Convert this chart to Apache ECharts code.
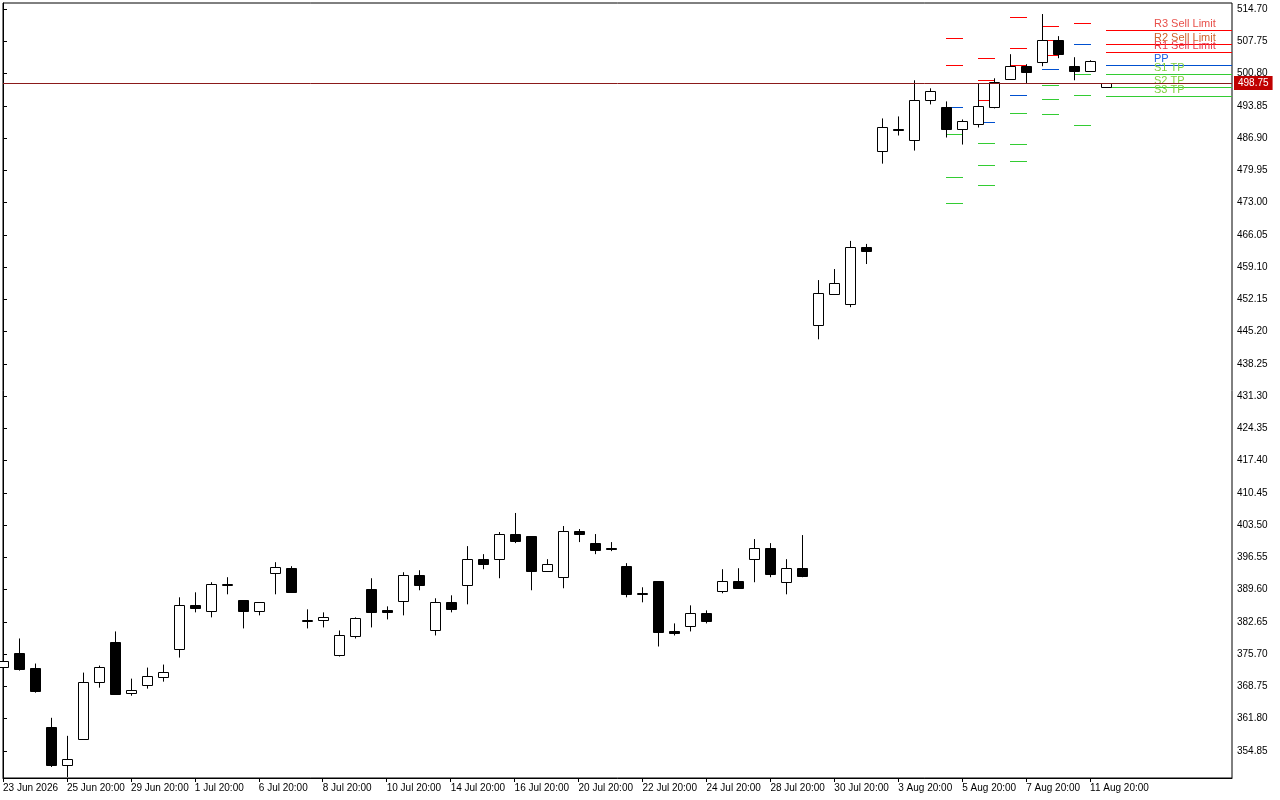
<!DOCTYPE html>
<html>
<head>
<meta charset="utf-8">
<script src="https://cdn.jsdelivr.net/npm/echarts@6/dist/echarts.min.js"></script>
<style>
  html, body { margin: 0; padding: 0; background: #fff; }
  #chart { width: 1280px; height: 800px; }
</style>
</head>
<body>
<div id="chart"></div>
<script>
'use strict';

// candles: [open, close, low, high]
const candles = [
  [373.03, 374.32, 372.81, 374.54], [376.05, 372.59, 372.16, 379.08], [372.81, 367.84, 367.40, 373.68],
  [360.05, 351.83, 351.40, 361.99], [351.83, 353.13, 349.23, 358.10], [357.45, 369.78, 357.24, 371.73],
  [369.78, 373.03, 368.48, 373.24], [378.43, 367.19, 367.19, 380.60], [367.40, 368.05, 366.75, 370.43],
  [369.13, 371.08, 368.27, 372.81], [370.86, 371.95, 369.78, 373.46], [376.92, 386.22, 374.97, 387.95],
  [386.22, 385.57, 384.71, 389.03], [384.92, 390.76, 383.63, 391.20], [390.76, 390.76, 388.60, 392.28],
  [387.30, 384.92, 381.25, 387.30], [384.92, 386.87, 384.06, 386.87], [393.14, 394.44, 388.60, 395.52],
  [394.22, 389.03, 389.03, 394.66], [382.98, 382.98, 381.25, 385.36], [382.98, 383.63, 381.46, 384.71],
  [375.62, 379.73, 375.19, 380.81], [379.52, 383.41, 379.08, 383.63], [389.68, 384.71, 381.46, 392.06],
  [385.14, 384.71, 383.19, 386.00], [387.09, 392.71, 384.06, 393.36], [392.71, 390.55, 389.47, 393.79],
  [380.81, 386.87, 379.73, 387.74], [386.87, 385.36, 384.71, 388.38], [390.55, 396.17, 386.44, 398.98],
  [396.17, 395.09, 394.01, 397.25], [396.17, 401.58, 392.06, 402.01], [401.58, 400.06, 399.63, 406.12],
  [401.15, 393.57, 389.47, 401.15], [393.57, 395.09, 393.57, 396.17], [392.28, 402.23, 389.90, 403.31],
  [402.23, 401.58, 399.85, 402.66], [399.63, 398.12, 397.25, 401.58], [398.55, 398.33, 397.90, 399.85],
  [394.66, 388.60, 387.95, 395.31], [388.82, 388.82, 386.87, 390.11], [391.41, 380.38, 377.35, 391.41],
  [380.60, 380.16, 379.73, 382.33], [381.68, 384.49, 380.60, 386.22], [384.49, 382.76, 382.33, 385.14],
  [389.25, 391.41, 388.82, 394.01], [391.41, 389.90, 389.90, 394.22], [396.17, 398.55, 391.20, 400.50],
  [398.55, 392.93, 392.28, 399.63], [391.20, 394.22, 388.60, 396.17], [394.22, 392.49, 392.28, 401.36],
  [446.57, 453.49, 443.54, 456.30], [453.27, 455.65, 453.27, 458.68], [451.11, 463.44, 450.46, 464.74],
  [463.44, 462.57, 459.76, 464.09], [484.20, 489.18, 481.39, 491.13], [488.96, 488.75, 487.45, 491.56],
  [486.58, 495.02, 484.20, 499.35], [495.02, 496.97, 494.15, 497.62], [493.51, 488.75, 487.02, 494.80],
  [488.75, 490.48, 485.50, 490.91], [489.83, 493.72, 489.18, 498.70], [493.51, 498.91, 493.29, 499.78],
  [499.56, 502.37, 499.56, 504.97], [502.37, 501.08, 498.70, 502.81], [503.24, 508.00, 502.37, 513.62],
  [508.00, 504.97, 504.10, 508.86], [502.37, 501.29, 499.35, 504.32], [501.29, 503.46, 501.29, 503.67],
  [497.83, 498.75, 497.83, 498.75]
];

// pivot levels per day (first candle index of each day)
const dayStart = [59, 61, 63, 65, 67, 69];
const r3 = [508.43, 504.10, 512.97, 511.03, 511.68, 510.16];
const r2 = [502.59, 499.35, 506.27, 508.00, null, 507.13];
const r1 = [null, 495.02, 502.59, 504.75, null, 505.40];
const pp = [493.51, 490.26, 496.10, 501.73, 507.13, 502.59];
const s1 = [487.88, 485.94, 492.21, 498.26, 500.64, 500.64];
const s2 = [478.58, 481.18, 485.72, 495.24, 496.10, 497.83];
const s3 = [472.96, 476.85, 482.04, 491.99, 489.61, 495.89];

const levelNames = ['R3 Sell Limit', 'R2 Sell Limit', 'R1 Sell Limit', 'PP', 'S1 TP', 'S2 TP', 'S3 TP'];
const lastPrice = 498.75;

const xLabels = ['23 Jun 2026', '25 Jun 20:00', '29 Jun 20:00', '1 Jul 20:00', '6 Jul 20:00', '8 Jul 20:00',
  '10 Jul 20:00', '14 Jul 20:00', '16 Jul 20:00', '20 Jul 20:00', '22 Jul 20:00', '24 Jul 20:00',
  '28 Jul 20:00', '30 Jul 20:00', '3 Aug 20:00', '5 Aug 20:00', '7 Aug 20:00', '11 Aug 20:00'];
const yTicks = [354.85, 361.80, 368.75, 375.70, 382.65, 389.60, 396.55, 403.50, 410.45, 417.40, 424.35,
  431.30, 438.25, 445.20, 452.15, 459.10, 466.05, 473.00, 479.95, 486.90, 493.85, 500.80, 507.75, 514.70];

const lineColors = ['#ff0000', '#ff0000', '#ff0000', '#0050d0', '#33cc33', '#33cc33', '#33cc33'];
const textColors = ['#e8504a', '#d0602a', '#e83a4a', '#2060e0', '#80d040', '#80d040', '#80d040'];

const levelRows = [];
dayStart.forEach((start, d) => {
  [r3, r2, r1, pp, s1, s2, s3].forEach((arr, k) => {
    if (arr[d] != null) levelRows.push([start, arr[d], k, d === dayStart.length - 1 ? 1 : 0]);
  });
});

const renderCandle = (params, api) => {
  const i = params.dataIndex;
  const [o, c, l, h] = candles[i];
  const x = Math.round(api.coord([i, o])[0]) + 0.5;
  const yo = api.coord([i, o])[1];
  const yc = api.coord([i, c])[1];
  const yl = api.coord([i, l])[1];
  const yh = api.coord([i, h])[1];
  const top = Math.round(Math.min(yo, yc)) + 0.5;
  const bot = Math.max(Math.round(Math.max(yo, yc)) + 0.5, top + 1);
  const bear = c < o;
  const w = 10;
  return {
    type: 'group',
    children: [
      { type: 'line', shape: { x1: x, y1: yh, x2: x, y2: yl }, style: { stroke: '#000', lineWidth: 1 } },
      { type: 'rect', shape: { x: x - w / 2, y: top, width: w, height: bot - top },
        style: { fill: bear ? '#000' : '#fff', stroke: '#000', lineWidth: 1 } }
    ]
  };
};

const renderLevel = (params, api) => {
  const [start, price, k, last] = levelRows[params.dataIndex];
  const x1 = Math.round(api.coord([start, price])[0]);
  const y = Math.round(api.coord([start, price])[1]);
  const x2 = last ? params.coordSys.x + params.coordSys.width : Math.round(api.coord([start + 1, price])[0]) + 1;
  const children = [{
    type: 'rect', shape: { x: x1, y, width: x2 - x1, height: 1 },
    style: { fill: lineColors[k] }
  }];
  if (last) {
    children.push({ type: 'text', x: x1 + 48, y: y - 1,
      style: { text: levelNames[k], fill: textColors[k], font: '11px "Liberation Sans"', textVerticalAlign: 'bottom' } });
  }
  return { type: 'group', children };
};

const chart = echarts.init(document.getElementById('chart'));
chart.setOption({
  animation: false,
  grid: { left: 2, right: 48, top: 3, bottom: 22, show: true, borderColor: '#000', borderWidth: 1 },
  xAxis: {
    type: 'value', min: 0, max: 76.875,
    splitLine: { show: false },
    axisLine: { lineStyle: { color: '#000' } },
    axisTick: { customValues: xLabels.map((_, j) => j * 4), length: 4, lineStyle: { color: '#000' } },
    axisLabel: {
      customValues: xLabels.map((_, j) => j * 4),
      formatter: v => xLabels[Math.round(v / 4)] || '',
      align: 'left', margin: 5, color: '#000', fontSize: 10, fontFamily: 'Liberation Sans'
    }
  },
  yAxis: {
    type: 'value', position: 'right', min: 349.02, max: 516.0,
    splitLine: { show: false },
    axisLine: { show: true, lineStyle: { color: '#000' } },
    axisTick: { customValues: yTicks, length: 4, inside: false, lineStyle: { color: '#000' } },
    axisLabel: {
      customValues: yTicks, formatter: v => v.toFixed(2),
      margin: 5, color: '#000', fontSize: 10, fontFamily: 'Liberation Sans'
    }
  },
  series: [
    {
      type: 'custom', renderItem: renderLevel, data: levelRows, z: 1,
      encode: { x: 0, y: 1 }
    },
    {
      type: 'custom', renderItem: renderCandle, z: 2,
      data: candles.map((c, i) => [i, c[0], c[1], c[2], c[3]]),
      encode: { x: 0, y: [1, 2, 3, 4] },
      markLine: {
        silent: true, symbol: 'none',
        lineStyle: { color: '#8b1a1a', width: 1, type: 'solid' },
        label: {
          position: 'end', formatter: lastPrice.toFixed(2), color: '#fff', backgroundColor: '#c00000',
          padding: [2, 4], fontSize: 10, fontFamily: 'Liberation Sans', distance: 2
        },
        data: [{ yAxis: lastPrice }]
      }
    }
  ]
});
</script>
</body>
</html>
